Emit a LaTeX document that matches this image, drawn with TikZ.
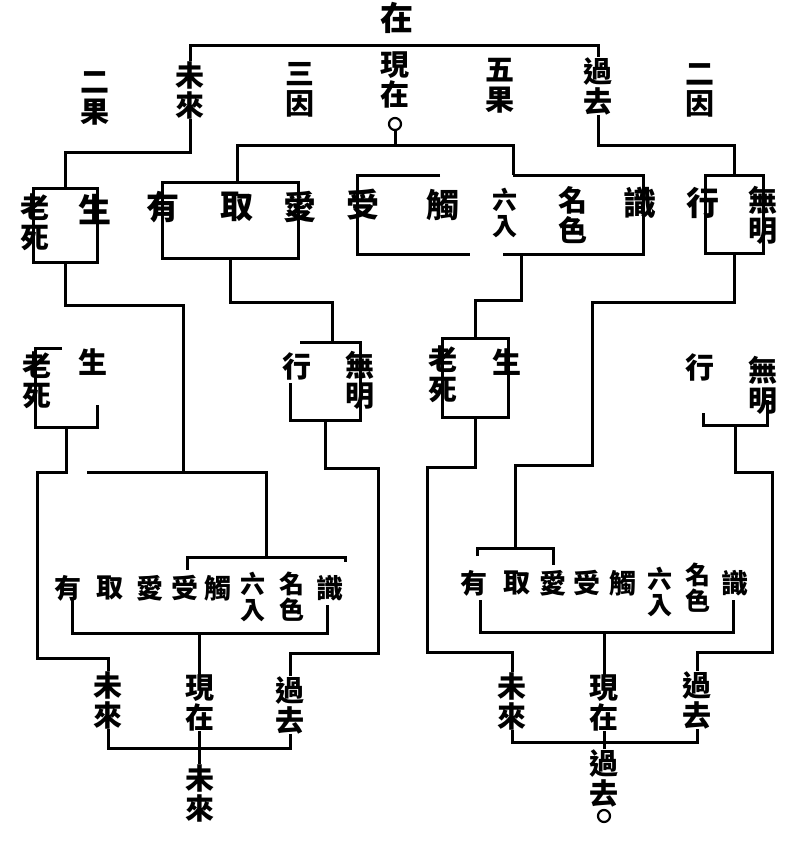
\documentclass[tikz,border=0pt]{standalone}
\usepackage{fontspec}
\newfontfamily\cjk{Noto Sans CJK TC}
\usetikzlibrary{calc}

\begin{document}
\begin{tikzpicture}[
  x=1pt, y=-1pt,
  zi/.style={font=\cjk\bfseries\fontsize{29}{30}\selectfont, inner sep=0pt, align=center},
  big/.style={zi, font=\cjk\bfseries\fontsize{33}{33}\selectfont},
  sm/.style={zi, font=\cjk\bfseries\fontsize{25}{26}\selectfont},
  rw/.style={zi, font=\cjk\bfseries\fontsize{27}{27}\selectfont},
  frame/.style={inner sep=0pt, outer sep=0pt},
  link/.style={line width=3pt, line join=miter},
  dot/.style={circle, draw, line width=2.2pt, inner sep=0pt, minimum size=12pt}
]
\useasboundingbox (0,0) rectangle (794,843);

% three times
\node[big] (zai) at (397,18) {在};
\node[zi] (erguo) at (95,98) {二\\果};
\node[zi] (weilai) at (190,90) {未\\來};
\node[zi] (sanyin) at (300,90) {三\\因};
\node[zi] (xianzai) at (395,80) {現\\在};
\node[dot] (xzo) at (395,124) {};
\node[zi] (wuguo) at (500,86) {五\\果};
\node[zi] (guoqu) at (598,86) {過\\去};
\node[zi] (eryin) at (700,90) {二\\因};

% row of twelve links
\node[frame, minimum width=64, minimum height=74] (l3) at (65,225) {};
\node[frame, minimum width=136, minimum height=76] (b3) at (230,220) {};
\node[frame, minimum width=286, minimum height=79] (c3) at (500,214.5) {};
\node[frame, minimum width=58, minimum height=78] (d3) at (734,214) {};
\node[zi] (laosi1) at (35,222) {老\\死};
\node[big] (sheng1) at (95,210) {生};
\node[big] (you1) at (163,207) {有};
\node[big] (qu1) at (237,207) {取};
\node[big] (ai1) at (300,207) {愛};
\node[big] (shou1) at (363,205) {受};
\node[big] (chu1) at (443,205) {觸};
\node[sm] (liuru1) at (505,213) {六\\入};
\node[zi] (mingse1) at (573,215) {名\\色};
\node[big] (shi1) at (640,203) {識};
\node[big] (xing1) at (703,203) {行};
\node[zi] (wuming1) at (763,215) {無\\明};

% second row
\node[frame, minimum width=62, minimum height=79] (e4) at (66,387.5) {};
\node[frame, minimum width=70, minimum height=78] (f4) at (325,381) {};
\node[frame, minimum width=66, minimum height=79] (g4) at (475,377.5) {};
\node[frame, minimum width=64, minimum height=70] (h4) at (735,390) {};
\node[zi] (laosi2) at (37,380) {老\\死};
\node[zi] (sheng2) at (93,362) {生};
\node[zi] (xing2) at (297,366) {行};
\node[zi] (wuming2) at (360,380) {無\\明};
\node[zi] (laosi3) at (443,374) {老\\死};
\node[zi] (sheng3) at (507,362) {生};
\node[zi] (xing3) at (700,367) {行};
\node[zi] (wuming3) at (763,385) {無\\明};

% third row
\node[frame, minimum width=158, minimum height=13] (i5t) at (266,563.5) {};
\node[frame, minimum width=255, minimum height=33] (i5b) at (199.5,616.5) {};
\node[frame, minimum width=76, minimum height=17] (j5t) at (515,556.5) {};
\node[frame, minimum width=253, minimum height=32] (j5b) at (606.5,616) {};
\foreach \t/\x [count=\i] in {有/68,取/110,愛/150,受/185,觸/218,識/330}
  \node[rw] (lw\i) at (\x,588) {\t};
\node[sm] (lliu) at (253,597) {六\\入};
\node[sm] (lming) at (292,597) {名\\色};
\foreach \t/\x [count=\i] in {有/474,取/517,愛/553,受/587,觸/623,識/735}
  \node[rw] (rw\i) at (\x,583) {\t};
\node[sm] (rliu) at (660,592) {六\\入};
\node[sm] (rming) at (698,588) {名\\色};

% bottom
\node[zi] (lwl) at (108,700) {未\\來};
\node[zi] (lxz) at (199.5,703) {現\\在};
\node[zi] (lgq) at (290,705) {過\\去};
\node[zi] (lfut) at (199.5,793) {未\\來};
\node[zi] (rwl) at (512,701) {未\\來};
\node[zi] (rxz) at (604,703) {現\\在};
\node[zi] (rgq) at (697,700) {過\\去};
\node[zi] (rpast) at (604,778) {過\\去};
\node[dot] (rpo) at (604,816) {};

% frames
\draw[link] (l3.north west) rectangle (l3.south east);
\draw[link] (b3.north west) rectangle (b3.south east);
\draw[link] ($(c3.north west)+(83,0)$) -- (c3.north west) -- (c3.south west) -- ++(113,0);
\draw[link] ($(c3.north east)+(-130,0)$) -- (c3.north east) -- (c3.south east) -- ++(-140,0);
\draw[link] (d3.north west) rectangle (d3.south east);
\draw[link] ($(e4.north west)+(27,0)$) -- (e4.north west) -- (e4.south west) -- (e4.south east) -- ++(0,-22);
\draw[link] ($(f4.north west)+(10,0)$) -- (f4.north east) -- (f4.south east) -- (f4.south west) -- ++(0,-37);
\draw[link] (g4.north west) rectangle (g4.south east);
\draw[link] ($(h4.south west)+(0,-12)$) -- (h4.south west) -- (h4.south east) -- ++(0,-25);
\draw[link] (i5t.south west) |- (i5t.north east) -- ++(0,5);
\draw[link] (i5b.north west) -- (i5b.south west) -- (i5b.south east) -- ++(0,-28);
\draw[link] ($(j5t.north west)+(0,8)$) -- (j5t.north west) -- (j5t.north east) -- (j5t.south east);
\draw[link] (j5b.north west) -- (j5b.south west) -- (j5b.south east) -- (j5b.north east);

% top links
\coordinate (tl) at (190,46);
\coordinate (tr) at (598,46);
\draw[link] (weilai.north) -- (tl) -- (tr) -- (guoqu.north);
\coordinate (wlb) at (190,152);
\draw[link] (weilai.south) -- (wlb) -| (l3.north);
\coordinate (xzl) at (237,145);
\coordinate (xzr) at (513,145);
\draw[link] (xzo.south) -- (xzo.south |- xzl);
\draw[link] (xzl |- b3.north) -- (xzl) -- (xzr) -- (xzr |- c3.north);
\coordinate (gqb) at (598,145);
\draw[link] (guoqu.south) -- (gqb) -| (d3.north);

% middle links
\coordinate (k1) at (183,305);
\coordinate (k2) at (183,472);
\coordinate (i5l) at (87,472);
\draw[link] (l3.south) |- (k1) -- (k2);
\draw[link] (i5l) -- (k2) -| (i5t.north);
\coordinate (k3) at (332,302);
\draw[link] (b3.south) |- (k3) -- (k3 |- f4.north);
\coordinate (k4) at (521,300);
\draw[link] (c3.south -| k4) -- (k4) -| (g4.north);
\coordinate (k5) at (592,302);
\coordinate (k6) at (592,465);
\draw[link] (d3.south) |- (k5) -- (k6) -| (j5t.north);

% lower links
\coordinate (m1) at (37,472);
\coordinate (m2) at (37,658);
\draw[link] (e4.south) |- (m1) -- (m2) -| (lwl.north);
\coordinate (m3) at (378,468);
\coordinate (m4) at (378,653);
\draw[link] (f4.south) |- (m3) -- (m4) -| (lgq.north);
\coordinate (m5) at (427,467);
\coordinate (m6) at (427,652);
\draw[link] (g4.south) |- (m5) -- (m6) -| (rwl.north);
\coordinate (m7) at (772,472);
\coordinate (m8) at (772,652);
\draw[link] (h4.south) |- (m7) -- (m8) -| (rgq.north);
\draw[link] (i5b.south) -- (lxz.north);
\draw[link] (j5b.south -| rxz.north) -- (rxz.north);

% joins at the foot
\coordinate (lbm) at (199.5,748);
\draw[link] (lwl.south) |- (lbm) -| (lgq.south);
\draw[link] (lxz.south) -- (lbm) -- (lfut.north);
\coordinate (rbm) at (604,742);
\draw[link] (rwl.south) |- (rbm) -| (rgq.south);
\draw[link] (rxz.south) -- (rbm) -- (rpast.north);
\end{tikzpicture}
\end{document}
